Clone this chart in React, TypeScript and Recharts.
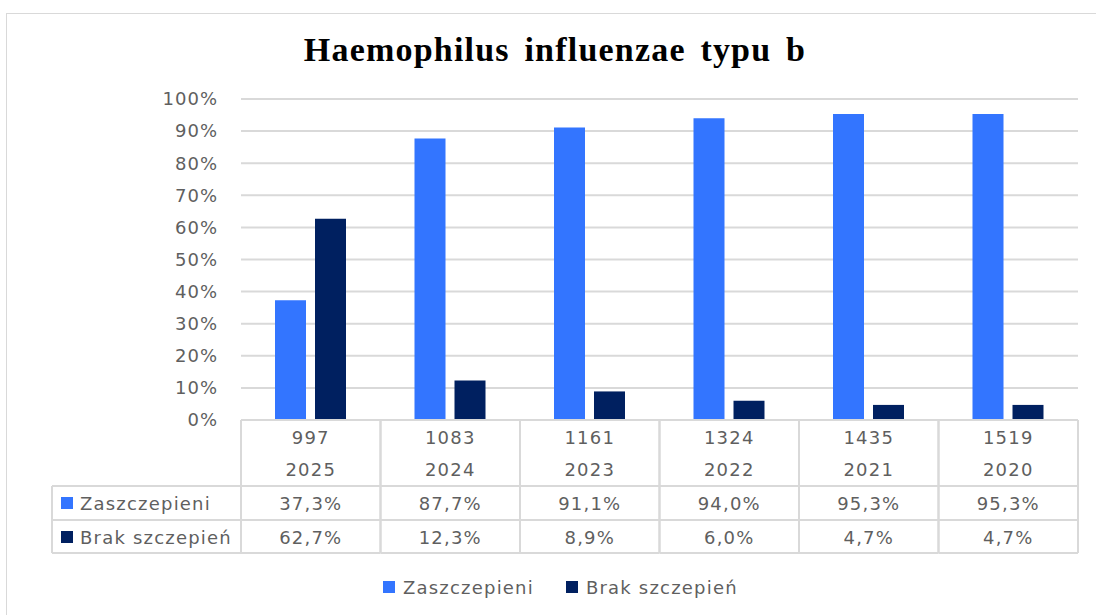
import { Bar, BarChart, CartesianGrid, Legend, XAxis, YAxis } from "recharts";

const years = ["2025", "2024", "2023", "2022", "2021", "2020"];
const counts = [997, 1083, 1161, 1324, 1435, 1519];
const vaccinated = [37.3, 87.7, 91.1, 94.0, 95.3, 95.3];
const unvaccinated = [62.7, 12.3, 8.9, 6.0, 4.7, 4.7];
const yTicks = [0, 10, 20, 30, 40, 50, 60, 70, 80, 90, 100];

const SERIES = [
  { key: "vaccinated", name: "Zaszczepieni", color: "#3375ff" },
  { key: "unvaccinated", name: "Brak szczepień", color: "#002060" },
];

const data = years.map((year, i) => ({
  year,
  count: counts[i],
  vaccinated: vaccinated[i],
  unvaccinated: unvaccinated[i],
}));

const W = 1096;
const H = 615;
const M = { top: 99, right: 18, bottom: 13, left: 0 };
const Y_W = 241;
const COL_W = (W - M.left - M.right - Y_W) / years.length;
const LABEL_X = 52;
const TEXT = "#5f5f5f";
const LINE = "#d9d9d9";
const FONT = "'DejaVu Sans', sans-serif";

const pct = (v: number) => v.toFixed(1).replace(".", ",") + "%";

// rows of the data table under the plot: offsets from the plot bottom
const ROW = { head: 0, r1: 66, r2: 100, end: 133 };

function TableTick(props: any) {
  const { x, y, index } = props;
  const row = data[index];
  const l = x - COL_W / 2;
  const r = x + COL_W / 2;
  const txt = { fill: TEXT, fontSize: 18, letterSpacing: 1.2, textAnchor: "middle" as const, dominantBaseline: "central" as const };
  return (
    <g>
      <line x1={l} x2={r} y1={y + ROW.head} y2={y + ROW.head} stroke={LINE} strokeWidth={2} />
      <line x1={l} x2={r} y1={y + ROW.r1} y2={y + ROW.r1} stroke={LINE} strokeWidth={2} />
      <line x1={l} x2={r} y1={y + ROW.r2} y2={y + ROW.r2} stroke={LINE} strokeWidth={2} />
      <line x1={l} x2={r} y1={y + ROW.end} y2={y + ROW.end} stroke={LINE} strokeWidth={2} />
      <line x1={l} x2={l} y1={y} y2={y + ROW.end} stroke={LINE} strokeWidth={2} />
      <line x1={r} x2={r} y1={y} y2={y + ROW.end} stroke={LINE} strokeWidth={2} />
      <text x={x} y={y + 17} {...txt}>{row.count}</text>
      <text x={x} y={y + 49} {...txt}>{row.year}</text>
      <text x={x} y={y + 83} {...txt}>{pct(row.vaccinated)}</text>
      <text x={x} y={y + 117} {...txt}>{pct(row.unvaccinated)}</text>
      {index === 0 && (
        <g>
          <line x1={LABEL_X} x2={l} y1={y + ROW.r1} y2={y + ROW.r1} stroke={LINE} strokeWidth={2} />
          <line x1={LABEL_X} x2={l} y1={y + ROW.r2} y2={y + ROW.r2} stroke={LINE} strokeWidth={2} />
          <line x1={LABEL_X} x2={l} y1={y + ROW.end} y2={y + ROW.end} stroke={LINE} strokeWidth={2} />
          <line x1={LABEL_X} x2={LABEL_X} y1={y + ROW.r1} y2={y + ROW.end} stroke={LINE} strokeWidth={2} />
          {SERIES.map((s, i) => {
            const cy = y + (i === 0 ? 83 : 117);
            return (
              <g key={s.key}>
                <rect x={LABEL_X + 9} y={cy - 6} width={12} height={12} fill={s.color} />
                <text x={LABEL_X + 28} y={cy} fill={TEXT} fontSize={18} letterSpacing={1.2} dominantBaseline="central">
                  {s.name}
                </text>
              </g>
            );
          })}
        </g>
      )}
    </g>
  );
}

function LegendContent() {
  return (
    <div style={{ display: "flex", alignItems: "center", height: 30, paddingLeft: 383, fontFamily: FONT, fontSize: 18, letterSpacing: 1.2, color: TEXT }}>
      {SERIES.map((s) => (
        <div key={s.key} style={{ display: "flex", alignItems: "center", marginRight: 32 }}>
          <span style={{ display: "inline-block", width: 12, height: 12, background: s.color, marginRight: 8 }} />
          {s.name}
        </div>
      ))}
    </div>
  );
}

export default function App() {
  return (
    <div style={{ position: "absolute", left: 0, top: 0, width: W, height: H, background: "#fff", fontFamily: FONT, overflow: "hidden" }}>
      <div style={{ position: "absolute", left: 6, top: 13, width: W, height: H, border: `1px solid ${LINE}` }} />
      <div
        style={{
          position: "absolute",
          left: 0,
          top: 31,
          width: W,
          textAlign: "center",
          paddingLeft: 14,
          boxSizing: "border-box",
          fontFamily: "'Liberation Serif', serif",
          fontWeight: "bold",
          fontSize: 34,
          letterSpacing: 1.2,
          wordSpacing: 5,
          color: "#000",
        }}
      >
        Haemophilus influenzae typu b
      </div>
      <div style={{ position: "absolute", left: 0, top: 0 }}>
        <BarChart width={W} height={H} data={data} margin={M} barGap={9} barSize={31}>
          <CartesianGrid vertical={false} stroke={LINE} strokeWidth={2} />
          <XAxis
            dataKey="year"
            axisLine={false}
            tickLine={false}
            tickSize={0}
            tickMargin={0}
            interval={0}
            height={152}
            tick={<TableTick />}
          />
          <YAxis
            domain={[0, 100]}
            ticks={yTicks}
            width={Y_W}
            axisLine={false}
            tickLine={false}
            tickMargin={17}
            tickFormatter={(v) => `${v}%`}
            tick={{ fill: TEXT, fontSize: 18, letterSpacing: 1 }}
          />
          <Legend verticalAlign="bottom" height={30} content={<LegendContent />} />
          {SERIES.map((s) => (
            <Bar key={s.key} dataKey={s.key} name={s.name} fill={s.color} isAnimationActive={false} />
          ))}
        </BarChart>
      </div>
    </div>
  );
}
